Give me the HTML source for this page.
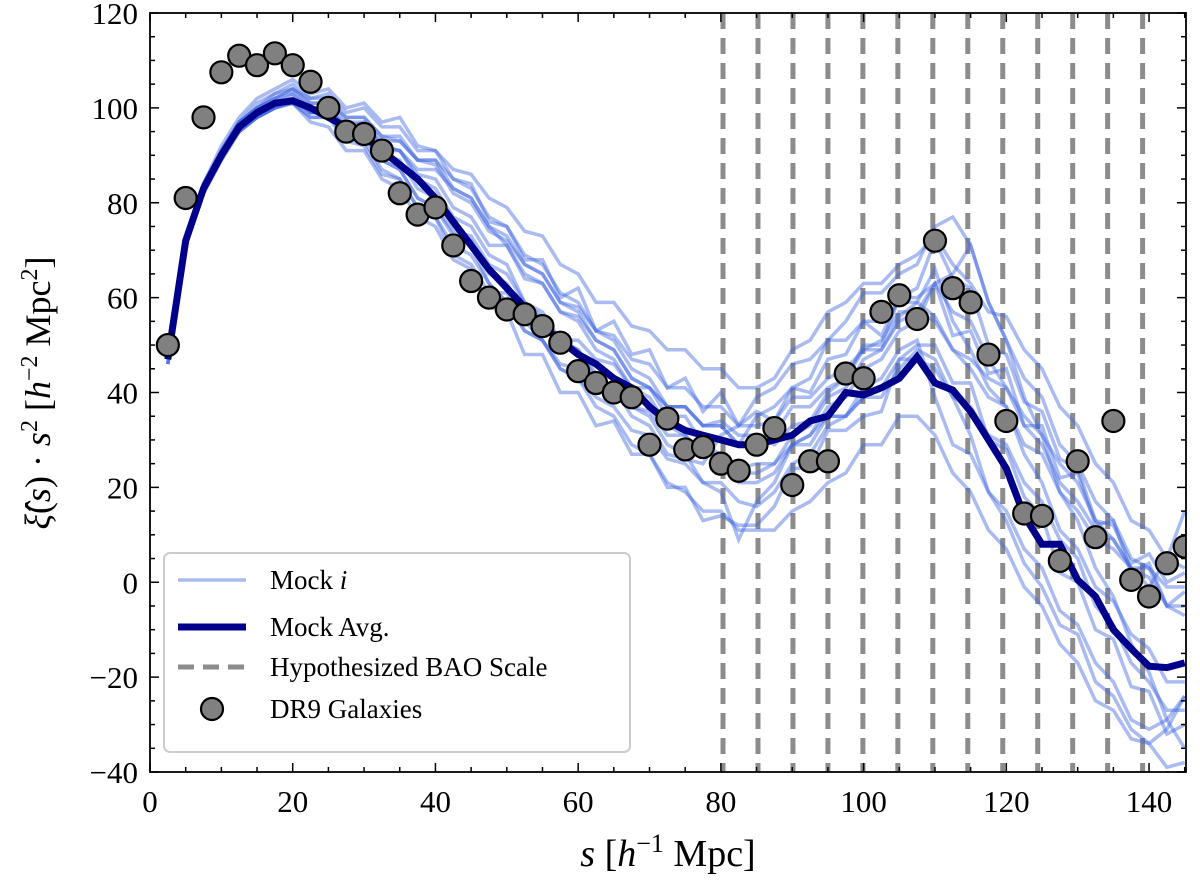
<!DOCTYPE html>
<html><head><meta charset="utf-8"><style>
html,body{margin:0;padding:0;background:#fff;}
svg{display:block;font-family:"Liberation Serif",serif;}
</style></head><body>
<svg id="chart" width="1200" height="886" viewBox="0 0 1200 886" xmlns="http://www.w3.org/2000/svg"></svg>
<script>
const sValues=[];for(let i=1;i<=58;i++)sValues.push(2.5*i);
const avgValues=[47,72,83,90,96,99,101,101.5,100,98,96,94,91,88,85,81,76,71,66,62,58,54,51,48,46,43,41,37,34,32,31,30,29,29,30,31,34,35,40,39.5,41,43,47.5,42,40.5,36,30,24,14,8,8,0.5,-3,-10,-14,-17.7,-18,-17];
const mock1=[46,73,84,92,98,102,104,106,103,104,100,101,97,98,92,91,85,84,76,75,68,68,60,62,53,55,48,49,41,43,36,40,33,36,34,41,40,47,48,55,52,60,60,63,52,53,44,45,33,33,22,23,12,13,2,4,-5,-2];
const mock2=[47,71,82,89,95,98,100,101,97,96,91,91,85,83,77,75,68,66,58,57,48,48,40,40,33,34,27,27,20,20,13,14,12,12,16,24,24,32,32,35,36,47,50,50,42,42,30,28,18,14,2,0,-10,-12,-22,-23,-32,-30];
const mock3=[48,72,83,91,97,100,103,104,101,101,98,98,94,93,89,89,83,81,75,71,64,63,57,56,51,49,43,41,37,37,33,34,31,31,29,33,34,40,43,50,50,60,62,72,64,62,50,48,38,36,26,24,13,12,4,6,0,2];
const mock4=[46,72,83,90,96,99,101,102,99,99,94,93,87,85,79,77,69,67,61,61,55,51,45,43,39,37,32,31,26,25,21,21,17,16,19,25,27,33,35,39,39,45,49,47,39,31,19,13,4,-1,-9,-11,-21,-24,-31,-34,-39,-38];
const mock5=[47,73,84,91,97,100,102,104,102,103,99,100,96,96,91,91,87,86,81,79,74,73,67,65,59,59,54,53,49,49,45,45,41,41,43,49,51,57,59,63,63,67,69,73,67,63,57,56,49,45,37,33,25,21,13,11,5,3];
const mock6=[47,72,83,90,96,98,100,101,98,98,93,92,86,85,79,77,71,69,63,59,53,51,46,45,41,41,37,35,29,27,21,19,9,17,21,29,29,35,35,41,43,49,51,39,29,27,19,15,7,3,-6,-9,-17,-21,-29,-31,-29,-24];
const mock7=[46,71,82,89,95,98,100,102,99,99,96,96,92,91,85,83,77,75,69,67,59,56,51,49,43,41,35,33,27,26,25,31,33,39,41,46,47,51,51,55,55,59,59,56,49,45,39,37,29,27,19,15,9,7,3,3,-1,-1];
const mock8=[48,72,84,91,97,100,102,104,101,101,97,97,92,91,86,85,79,77,71,71,65,63,57,55,49,47,41,39,33,31,27,27,23,23,25,29,31,37,39,45,47,53,55,63,65,71,59,51,43,39,29,25,17,13,5,3,-5,-7];
const mock9=[47,72,83,90,95,98,100,101,98,98,94,94,89,87,81,79,73,71,63,59,53,51,45,43,37,35,29,27,21,19,15,15,11,11,11,15,17,21,23,29,29,35,35,31,23,19,11,7,-1,-5,-13,-17,-25,-27,-33,-34,-31,-24];
const mock10=[46,73,84,91,97,101,103,105,102,102,98,98,94,94,89,88,82,80,74,72,67,65,59,58,53,52,47,46,41,41,37,37,33,33,34,39,39,43,45,49,49,55,57,63,57,55,47,41,33,29,21,17,11,9,3,1,-5,-5];
const mock11=[47,72,83,90,96,99,101,103,100,100,95,94,89,87,81,79,74,73,67,65,59,57,51,49,44,43,37,36,31,31,27,27,24,25,25,31,33,39,41,47,49,56,59,66,55,49,41,37,27,21,11,7,-1,-4,-11,-14,-21,-21];
const mock12=[47,71,82,90,95,98,100,102,99,99,95,95,91,91,87,87,83,81,75,73,67,65,59,57,51,49,43,41,37,37,33,33,29,29,31,37,37,41,43,49,51,57,57,55,49,47,43,41,35,31,25,21,13,9,3,-1,5,15];
const mock13=[48,73,84,91,97,100,102,103,100,100,96,95,90,89,83,81,75,72,65,63,57,56,51,51,47,46,41,41,35,35,29,27,21,21,23,29,31,35,35,39,41,47,47,45,39,37,31,29,21,17,9,5,-5,-9,-17,-21,-27,-27];
const mock14=[47,72,83,90,96,99,101,102,99,100,96,97,93,93,89,89,85,83,77,75,69,67,61,59,53,51,45,43,37,37,33,33,29,35,37,41,43,51,55,61,61,65,67,75,77,71,59,51,39,31,19,13,3,-3,-13,-19,-29,-35];
const mockSeries=[mock1,mock2,mock3,mock4,mock5,mock6,mock7,mock8,mock9,mock10,mock11,mock12,mock13,mock14];
const galS=[2.5,5,7.5,10,12.5,15,17.5,20,22.5,25,27.5,30,32.5,35,37.5,40,42.5,45,47.5,50,52.5,55,57.5,60,62.5,65,67.5,70,72.5,75,77.5,80,82.5,85,87.5,90,92.5,95,97.5,100,102.5,105,107.5,110,112.5,115,117.5,120,122.5,125,127.5,130,132.5,135,137.5,140,142.5,145];
const galValues=[50,81,98,107.5,111,109,111.5,109,105.5,100,95,94.5,91,82,77.5,79,71,63.5,60,57.5,56.5,54,50.5,44.5,42,40,39,29,34.5,28,28.5,25,23.5,29,32.5,20.5,25.5,25.5,44,43,57,60.5,55.5,72,62,59,48,34,14.5,14,4.5,25.5,9.5,34,0.5,-3,4,7.5];
const baoScales=[80.3,85.2,90.1,95.0,99.9,104.8,109.7,114.6,119.5,124.4,129.3,134.2,139.1];
const xTicks=[0,20,40,60,80,100,120,140];
const yTicks=[-40,-20,0,20,40,60,80,100,120];

const L=150,R=1186,T=13,B=772;
const XMIN=0,XMAX=(R-L)/7.136,YMIN=-40,YMAX=120;
const xs=v=>L+(v-XMIN)/(XMAX-XMIN)*(R-L);
const ys=v=>B-(v-YMIN)/(YMAX-YMIN)*(B-T);
const NS='http://www.w3.org/2000/svg';
const svg=document.getElementById('chart');
function mk(tag,attrs,parent){const e=document.createElementNS(NS,tag);for(const k in attrs)e.setAttribute(k,attrs[k]);(parent||svg).appendChild(e);return e;}

const defs=mk('defs',{});
const cp=mk('clipPath',{id:'clip'},defs);mk('rect',{x:L,y:T,width:R-L,height:B-T},cp);
const plot=mk('g',{'clip-path':'url(#clip)'});



baoScales.forEach((s,i)=>{
  const l=mk('line',{x1:xs(s),x2:xs(s),y1:T,y2:B,stroke:'#8c8c8c','stroke-width':5,'stroke-dasharray':'16,9'},plot);
  
  
});
mockSeries.forEach((arr,k)=>{
  const d=arr.map((v,i)=>(i?'L':'M')+xs(sValues[i]).toFixed(1)+','+ys(v).toFixed(1)).join('');
  const p=mk('path',{d:d,fill:'none',stroke:'#4169e1','stroke-opacity':0.45,'stroke-width':3.5,'stroke-linejoin':'miter'},plot);
  
  
});
{
  const d=avgValues.map((v,i)=>(i?'L':'M')+xs(sValues[i]).toFixed(1)+','+ys(v).toFixed(1)).join('');
  const p=mk('path',{d:d,fill:'none',stroke:'#00008b','stroke-width':7,'stroke-linejoin':'miter'},plot);
  
  
}
galValues.forEach((v,i)=>{
  const c=mk('circle',{cx:xs(galS[i]),cy:ys(v),r:11,fill:'#808080',stroke:'#000','stroke-width':2.2},plot);
  
  
});

const ax=mk('g',{});


mk('rect',{x:L,y:T,width:R-L,height:B-T,fill:'none',stroke:'#000','stroke-width':1.8},ax);
for(let v=0;v<=XMAX;v+=5){const x=xs(v),mj=v%20===0,len=mj?9:5;
  mk('line',{x1:x,x2:x,y1:B,y2:B-len,stroke:'#000','stroke-width':1.5},ax);
  mk('line',{x1:x,x2:x,y1:T,y2:T+len,stroke:'#000','stroke-width':1.5},ax);}
for(let v=-40;v<=120;v+=5){const y=ys(v),mj=v%20===0,len=mj?9:5;
  mk('line',{x1:L,x2:L+len,y1:y,y2:y,stroke:'#000','stroke-width':1.5},ax);
  mk('line',{x1:R,x2:R-len,y1:y,y2:y,stroke:'#000','stroke-width':1.5},ax);}
xTicks.forEach(v=>{const t=mk('text',{x:xs(v),y:B+40,'text-anchor':'middle','font-size':31},ax);t.textContent=String(v);
  
  });
yTicks.forEach(v=>{const t=mk('text',{x:L-12,y:ys(v)+11,'text-anchor':'end','font-size':31},ax);t.textContent=v<0?'\u2212'+(-v):String(v);
  
  });
</script>
<svg style="position:absolute;left:0;top:0" width="1200" height="886">
  <text x="668" y="866" text-anchor="middle" font-size="38" font-family="Liberation Serif, serif"><tspan font-style="italic">s</tspan> [<tspan font-style="italic">h</tspan><tspan dy="-14" font-size="26">−1</tspan><tspan dy="14"> Mpc]</tspan></text>
  <text transform="translate(50,393) rotate(-90)" text-anchor="middle" font-size="36" font-family="Liberation Serif, serif"><tspan font-style="italic">ξ̂</tspan>(<tspan font-style="italic">s</tspan>) · <tspan font-style="italic">s</tspan><tspan dy="-13" font-size="24">2</tspan><tspan dy="13"> [</tspan><tspan font-style="italic">h</tspan><tspan dy="-13" font-size="24">−2</tspan><tspan dy="13"> Mpc</tspan><tspan dy="-13" font-size="24">2</tspan><tspan dy="13">]</tspan></text>
  <g font-family="Liberation Serif, serif" font-size="27">
    <rect x="164" y="553" width="466" height="199" rx="6" fill="#fff" fill-opacity="0.85" stroke="#ccc" stroke-width="2"/>
    <line x1="178" y1="580" x2="246" y2="580" stroke="#4169e1" stroke-opacity="0.45" stroke-width="3.5"/>
    <text x="270" y="589">Mock <tspan font-style="italic">i</tspan></text>
    <line x1="178" y1="627" x2="246" y2="627" stroke="#00008b" stroke-width="7"/>
    <text x="270" y="636">Mock Avg.</text>
    <line x1="178" y1="667" x2="246" y2="667" stroke="#8c8c8c" stroke-width="5" stroke-dasharray="16,9"/>
    <text x="270" y="676">Hypothesized BAO Scale</text>
    <circle cx="212" cy="709" r="11" fill="#808080" stroke="#000" stroke-width="2.2"/>
    <text x="270" y="718">DR9 Galaxies</text>
  </g>
</svg>
</body></html>
